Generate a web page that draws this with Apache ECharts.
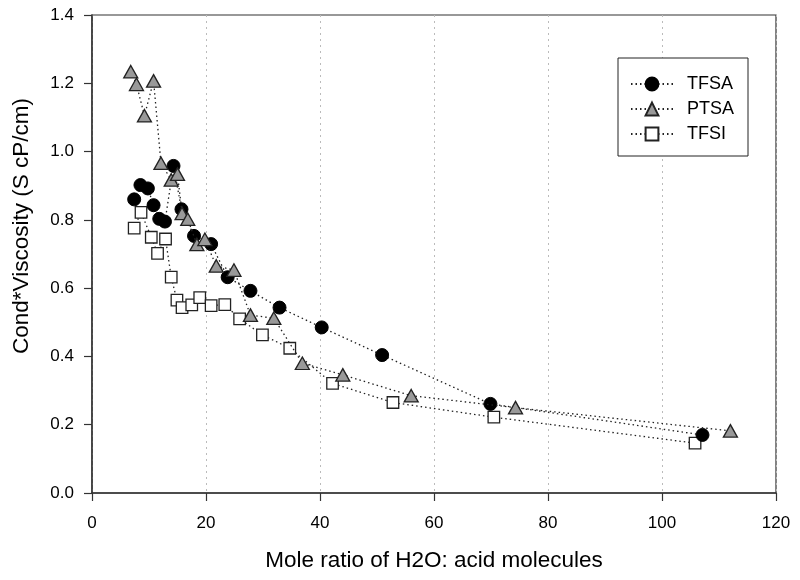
<!DOCTYPE html>
<html>
<head>
<meta charset="utf-8">
<script src="https://cdn.jsdelivr.net/npm/echarts@6/dist/echarts.min.js"></script>
<style>html,body{margin:0;padding:0;background:#fff}#c{width:800px;height:580px}</style>
</head>
<body>
<div id="c"></div>
<script>
const tfsaX = [7.4, 8.5, 9.8, 10.8, 11.8, 12.8, 14.3, 15.7, 17.9, 20.9, 23.8, 27.8, 32.9, 40.3, 50.9, 69.9, 107.1];
const tfsaY = [0.860, 0.902, 0.892, 0.843, 0.803, 0.795, 0.958, 0.831, 0.753, 0.729, 0.632, 0.592, 0.543, 0.485, 0.404, 0.261, 0.170];
const ptsaX = [6.8, 7.8, 9.2, 10.8, 12.1, 13.9, 15.0, 15.8, 16.8, 18.4, 19.8, 21.8, 24.9, 27.8, 31.9, 36.9, 44.0, 56.0, 74.3, 112.0];
const ptsaY = [1.234, 1.197, 1.105, 1.207, 0.966, 0.917, 0.934, 0.819, 0.802, 0.728, 0.743, 0.665, 0.653, 0.521, 0.512, 0.380, 0.346, 0.285, 0.250, 0.182];
const tfsiX = [7.4, 8.6, 10.4, 11.5, 12.9, 13.9, 14.9, 15.8, 17.5, 18.9, 20.9, 23.3, 25.9, 29.9, 34.7, 42.2, 52.8, 70.5, 105.8];
const tfsiY = [0.776, 0.822, 0.749, 0.702, 0.744, 0.632, 0.565, 0.543, 0.551, 0.572, 0.549, 0.552, 0.510, 0.463, 0.424, 0.321, 0.265, 0.222, 0.146];
const seriesNames = ['TFSA', 'PTSA', 'TFSI'];
const xTicks = [0, 20, 40, 60, 80, 100, 120];
const yTicks = [0.0, 0.2, 0.4, 0.6, 0.8, 1.0, 1.2, 1.4];

const pair = (xs, ys) => xs.map((x, i) => [x, ys[i]]);
const FONT = 'Liberation Sans, Arial, Helvetica, sans-serif';
const lineStyle = { color: '#222', width: 1.3, type: [1.5, 3] };

const chart = echarts.init(document.getElementById('c'), null, { renderer: 'canvas' });
chart.setOption({
  animation: false,
  backgroundColor: '#fff',
  grid: { left: 92, right: 24, top: 15, bottom: 87, show: true, borderColor: '#333', borderWidth: 1.2, backgroundColor: 'transparent' },
  legend: {
    left: 618, top: 58,
    orient: 'vertical',
    data: seriesNames,
    backgroundColor: '#fff',
    borderColor: '#222', borderWidth: 1,
    padding: [17, 14, 13, 12],
    itemGap: 7,
    itemWidth: 42, itemHeight: 16,
    textStyle: { fontFamily: FONT, fontSize: 18, lineHeight: 16, color: '#000', padding: [0, 0, 0, 9] }
  },
  xAxis: {
    type: 'value', min: xTicks[0], max: xTicks[xTicks.length - 1], interval: 20,
    name: 'Mole ratio of H2O: acid molecules', nameLocation: 'middle', nameGap: 56,
    nameTextStyle: { fontFamily: FONT, fontSize: 22.5, color: '#000' },
    axisLine: { show: true, lineStyle: { color: '#333', width: 1.5 } },
    axisTick: { show: true, inside: false, length: 8, lineStyle: { color: '#333', width: 1.2 } },
    axisLabel: { fontFamily: FONT, fontSize: 17, color: '#000', margin: 22 },
    splitLine: { show: true, lineStyle: { color: '#bbb', type: [2, 4], width: 1 } }
  },
  yAxis: {
    type: 'value', min: yTicks[0], max: yTicks[yTicks.length - 1], interval: 0.2,
    name: 'Cond*Viscosity (S cP/cm)', nameLocation: 'middle', nameGap: 59, nameRotate: 90,
    nameTextStyle: { fontFamily: FONT, fontSize: 22.5, color: '#000', padding: [0, 0, 0, 56] },
    axisLine: { show: true, lineStyle: { color: '#333', width: 1.5 } },
    axisTick: { show: true, inside: false, length: 8, lineStyle: { color: '#333', width: 1.2 } },
    axisLabel: { fontFamily: FONT, fontSize: 17, color: '#000', margin: 18, formatter: v => v.toFixed(1) },
    splitLine: { show: false }
  },
  series: [
    {
      name: seriesNames[0], type: 'line', data: pair(tfsaX, tfsaY),
      symbol: 'circle', symbolSize: 13, showAllSymbol: true,
      itemStyle: { color: '#000', borderColor: '#000', borderWidth: 1 },
      lineStyle: lineStyle, z: 3
    },
    {
      name: seriesNames[1], type: 'line', data: pair(ptsaX, ptsaY),
      symbol: 'triangle', symbolSize: [14, 12.5], showAllSymbol: true,
      itemStyle: { color: '#999', borderColor: '#222', borderWidth: 1.3 },
      lineStyle: lineStyle, z: 4
    },
    {
      name: seriesNames[2], type: 'line', data: pair(tfsiX, tfsiY),
      symbol: 'rect', symbolSize: 11.5, showAllSymbol: true,
      itemStyle: { color: '#fff', borderColor: '#222', borderWidth: 1.3 },
      lineStyle: lineStyle, z: 2
    }
  ]
});
</script>
</body>
</html>
